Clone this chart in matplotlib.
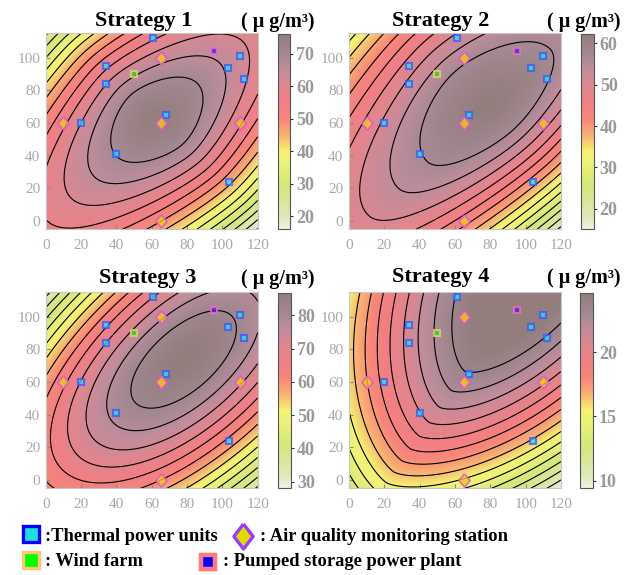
import numpy as np
import matplotlib
matplotlib.use('Agg')
import matplotlib.pyplot as plt
from matplotlib.colors import LinearSegmentedColormap, Normalize
from matplotlib.cm import ScalarMappable

plt.rcParams['font.family'] = ['Liberation Serif', 'DejaVu Serif']

# ---- data ----
titles = ['Strategy 1', 'Strategy 2', 'Strategy 3', 'Strategy 4']

# concentration surface: peak at (cx, cy), long axis at
# axis_angle; value falls by drop_scale at the cross-axis scale distances
peak_value = [75.5, 62.0, 86.5, 26.17]
center_x = [63, 79, 78, 110]
center_y = [62, 71, 74, 135]
axis_angle = [45, 45, 45, 57]
drop_scale = [51.2, 30.4, 54.0, 8.3]
drop_power = [1.53, 1.5, 1.53, 1.5]
long_scale = [84.6, 111.7, 178.0, np.inf]
long_soft = [28.6, 57.3, np.inf, np.inf]
long_quad = [0.0, 0.0, 0.0, 4.02e-4]
cross_scale_tl = [82.0, 87.0, 84.1, 81.4]
cross_scale_br = [80.2, 63.8, 86.6, 67.8]

# contour lines and colour bars
top_level = [69.0, 56.45, 81.4, 23.5]
level_step = [4.0, 3.0, 4.0, 1.0]
cbar_min = [16.0, 15.0, 28.0, 9.4]
cbar_max = [76.0, 62.2, 86.6, 24.6]
cbar_ticks = [[20, 30, 40, 50, 60, 70], [20, 30, 40, 50, 60],
              [30, 40, 50, 60, 70, 80], [10, 15, 20]]

# facilities
thermal_x = [61, 34, 34, 20, 40, 68, 103, 110, 112, 104]
thermal_y = [112, 95, 84, 60, 41, 65, 94, 101, 87, 24]
wind_x = [50]
wind_y = [90]
pumped_x = [95]
pumped_y = [104]
monitor_x = [65, 10, 65, 110, 65]
monitor_y = [100, 60, 60, 60, 0]

cmap = LinearSegmentedColormap.from_list('conc', [
    (0.00, '#eef1e4'), (0.07, '#dce8b8'), (0.23, '#d5e679'),
    (0.34, '#ecf27a'), (0.40, '#f4f272'), (0.48, '#f8b272'),
    (0.56, '#f8867a'), (0.64, '#f27f84'), (0.73, '#e0868f'),
    (0.82, '#bf8d9c'), (0.90, '#a28891'), (1.00, '#937d7d')])

W, H = 638, 575
fig = plt.figure(figsize=(W / 100, H / 100), dpi=100)


def box(left, top, w, h):
    return [left / W, 1 - (top + h) / H, w / W, h / H]


ax_left = [45.7, 349, 45.7, 349]
ax_top = [33.3, 33.3, 292.3, 292.3]
cb_left = [277.7, 581, 278.3, 580]
title_x = [144, 441, 148, 441]
title_y = [26, 26, 283, 282]
unit_x = [278, 584, 278, 584]

diamond_map = [(0, 1), (0.85, 0), (0, -1), (-0.85, 0), (0, 1)]
diamond_key = [(0, 1), (0.77, 0), (0, -1), (-0.77, 0), (0, 1)]

xg = np.linspace(0, 120, 241)
yg = np.linspace(-5, 115, 241)
X, Y = np.meshgrid(xg, yg)

for i in range(4):
    ax = fig.add_axes(box(ax_left[i], ax_top[i], 212, 196))
    th = np.deg2rad(axis_angle[i])
    dx = X - center_x[i]
    dy = Y - center_y[i]
    u = dx * np.cos(th) + dy * np.sin(th)
    v = -dx * np.sin(th) + dy * np.cos(th)
    bv = np.where(v > 0, cross_scale_tl[i], cross_scale_br[i])
    R2 = ((u / long_scale[i]) ** 2 / (1 + np.abs(u) / long_soft[i])
          + (v / bv) ** 2)
    Z = (peak_value[i] - drop_scale[i] * R2 ** (drop_power[i] / 2)
         - long_quad[i] * u ** 2)

    norm = Normalize(cbar_min[i], cbar_max[i])
    ax.imshow(Z, origin='lower', extent=[0, 120, -5, 115], aspect='auto',
              cmap=cmap, norm=norm, interpolation='bilinear')
    levels = np.sort(np.arange(top_level[i], Z.min(), -level_step[i]))
    ax.contour(X, Y, Z, levels=levels, colors='black', linewidths=0.8)

    ax.plot(thermal_x, thermal_y, 's', ms=4.5, mew=1.5, mfc='#30e0e0',
            mec='#3a55ff', alpha=0.75, ls='none')
    ax.plot(wind_x, wind_y, 's', ms=4.5, mew=1.5, mfc='#30d030',
            mec='#e8d070', alpha=0.8, ls='none')
    ax.plot(pumped_x, pumped_y, 's', ms=4.5, mew=1.5, mfc='#5020e0',
            mec='#f070c0', alpha=0.8, ls='none')
    ax.plot(monitor_x, monitor_y, marker=diamond_map, ms=9.5, mew=1.3,
            mfc='#f0cc10', mec='#e050e0', alpha=0.8, ls='none')

    ax.set_xlim(0, 120)
    ax.set_ylim(-5, 115)
    ax.set_xticks([0, 20, 40, 60, 80, 100, 120])
    ax.set_yticks([0, 20, 40, 60, 80, 100])
    ax.tick_params(direction='in', length=3, color='#888888',
                   labelcolor='#a8a8a8', labelsize=11)
    ax.tick_params(axis='x', pad=7)
    ax.tick_params(axis='y', pad=4)
    for s in ax.spines.values():
        s.set_color('#c8c8c8')
        s.set_linewidth(0.8)

    cax = fig.add_axes(box(cb_left[i], ax_top[i] + 1, 12.5, 195))
    cb = fig.colorbar(ScalarMappable(norm=norm, cmap=cmap), cax=cax)
    cb.set_ticks(cbar_ticks[i])
    cb.outline.set_edgecolor('#555555')
    cb.outline.set_linewidth(0.8)
    cax.tick_params(direction='out', length=2.5, color='#333333', pad=2,
                    labelcolor='#999999', labelsize=13)
    for t in cax.get_yticklabels():
        t.set_fontweight('bold')

    fig.text(title_x[i] / W, 1 - title_y[i] / H, titles[i], ha='center',
             va='baseline', fontsize=16, fontweight='bold')
    fig.text(unit_x[i] / W, 1 - (title_y[i] + 1) / H, '( μ g/m³)',
             ha='center', va='baseline', fontsize=14.5, fontweight='bold')

# ---- legend ----
lg = fig.add_axes([0, 0, 1, 1], zorder=-1)
lg.set_xlim(0, W)
lg.set_ylim(H, 0)
lg.axis('off')
lg.plot([31.2], [534], 's', ms=11.5, mew=2.4, mfc='#22dddd', mec='#0000ff')
lg.plot([242.5], [536], marker=diamond_key, ms=18, mew=2.4, mfc='#e0dc00',
        mec='#9a3cff')
lg.plot([31.2], [560], 's', ms=11.5, mew=2.4, mfc='#00ff00', mec='#ffc870')
lg.plot([208], [561.5], 's', ms=10, mew=3.2, mfc='#0000ff', mec='#ff7878')
fig.text(45 / W, 1 - 540.7 / H, ':Thermal power units', fontsize=13.3,
         fontweight='bold', va='baseline')
fig.text(260 / W, 1 - 540.7 / H, ': Air quality monitoring station',
         fontsize=13.3, fontweight='bold', va='baseline')
fig.text(45 / W, 1 - 566 / H, ': Wind farm', fontsize=13.3,
         fontweight='bold', va='baseline')
fig.text(223 / W, 1 - 566 / H, ': Pumped storage power plant',
         fontsize=13.3, fontweight='bold', va='baseline')

fig.savefig('out.png', dpi=100)
